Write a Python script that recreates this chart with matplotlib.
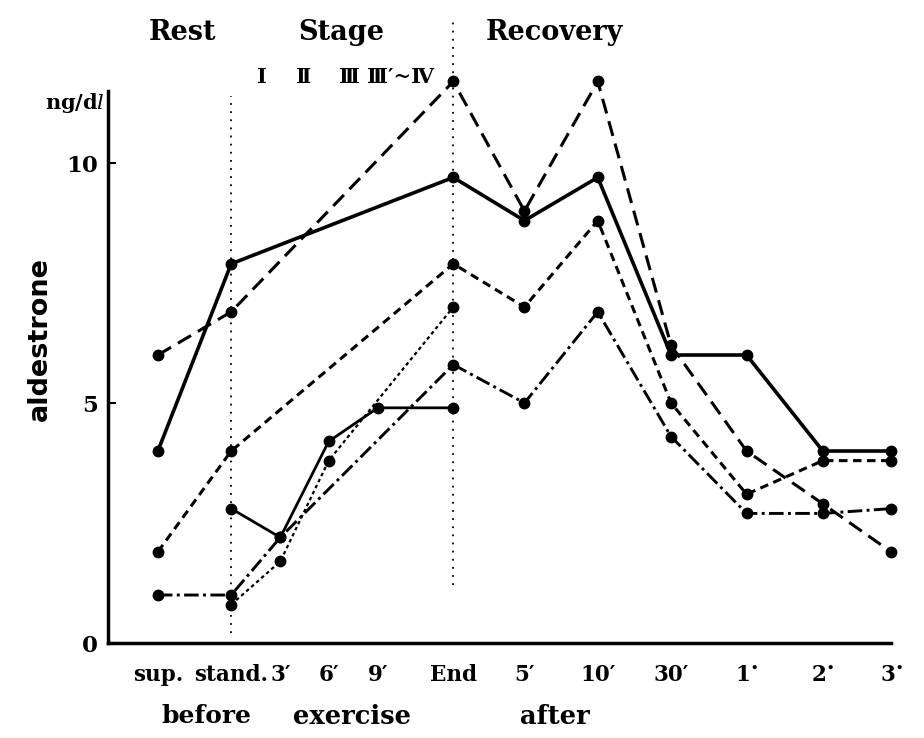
import numpy as np
import matplotlib.pyplot as plt

plt.rcParams['mathtext.fontset'] = 'dejavuserif'

# Sampling times (x positions on the uneven time axis) and their labels
times = ["sup.", "stand.", "3'", "6'", "9'", "End", "5'", "10'", "30'", "1h", "2h", "3h"]
x_pos = [0, 1, 1.67, 2.33, 3, 4.03, 5, 6, 7, 8.03, 9.07, 10]
tick_labels = ["sup.", "stand.", "3\u2032", "6\u2032", "9\u2032", "End", "5\u2032", "10\u2032",
               "30\u2032", r"1$^{\bullet}$", r"2$^{\bullet}$", r"3$^{\bullet}$"]

# Plasma aldosterone (ng/dl) per subject; None = not sampled
subj_a = [4.0, 7.9, None, None, None, 9.7, 8.8, 9.7, 6.0, 6.0, 4.0, 4.0]
subj_b = [6.0, 6.9, None, None, None, 11.7, 9.0, 11.7, 6.2, 4.0, 2.9, 1.9]
subj_c = [1.9, 4.0, None, None, None, 7.9, 7.0, 8.8, 5.0, 3.1, 3.8, 3.8]
subj_d = [1.0, 1.0, 2.2, None, None, 5.8, 5.0, 6.9, 4.3, 2.7, 2.7, 2.8]
subj_e = [None, 2.8, 2.2, 4.2, 4.9, 4.9, None, None, None, None, None, None]
subj_f = [None, 0.8, 1.7, 3.8, None, 7.0, None, None, None, None, None, None]

fig = plt.figure(figsize=(9.24, 7.38), dpi=100)
ax = fig.add_axes([0.1169, 0.1287, 0.8474, 0.813])


def draw(vals, lw, ls):
    xs = [x for x, v in zip(x_pos, vals) if v is not None]
    ys = [v for v in vals if v is not None]
    ax.plot(xs, ys, color='black', lw=lw, linestyle=ls, marker='o',
            markersize=7.5, clip_on=False, zorder=3)


draw(subj_a, 2.6, '-')
draw(subj_b, 2.2, (0, (5, 2.6)))
draw(subj_c, 2.2, (0, (2.8, 1.8)))
draw(subj_d, 2.1, (0, (5, 1.5, 1, 1.5)))
draw(subj_e, 2.0, '-')
draw(subj_f, 1.6, (0, (1.6, 1.4)))

# dotted separators: rest / exercise / recovery
ax.plot([1, 1], [0.2, 11.4], color='black', lw=1.3, ls=(0, (1, 3.5)), clip_on=False)
ax.plot([4.03, 4.03], [1.2, 13.0], color='black', lw=1.3, ls=(0, (1, 3.5)), clip_on=False)

ax.set_xlim(-0.68, 10.0)
ax.set_ylim(0, 12.5)
ax.spines['top'].set_visible(False)
ax.spines['right'].set_visible(False)
ax.spines['left'].set_bounds(0, 11.5)
ax.spines['left'].set_linewidth(2.5)
ax.spines['bottom'].set_linewidth(2.5)

serif = {'family': 'DejaVu Serif', 'weight': 'bold'}
ax.set_xticks(x_pos)
ax.set_xticklabels(tick_labels, fontdict=serif, fontsize=15.5)
ax.tick_params(axis='x', length=0, pad=15)
ax.set_yticks([0, 5, 10])
ax.set_yticklabels(['0', '5', '10'], fontdict=serif, fontsize=16.5)
ax.tick_params(axis='y', direction='in', length=6, width=1.5, pad=7)

fig.text(0.043, 0.54, "aldestrone", rotation=90, ha='center', va='center',
         family='DejaVu Sans', weight='heavy', fontsize=19.5)
fig.text(0.113, 0.861, r"ng/d$\mathit{l}$", ha='right', va='center', fontsize=15, **serif)

top_y = 1 - 32 / 738
fig.text(182 / 924, top_y, "Rest", ha='center', va='center', fontsize=19.5, **serif)
fig.text(341 / 924, top_y, "Stage", ha='center', va='center', fontsize=19.5, **serif)
fig.text(554 / 924, top_y, "Recovery", ha='center', va='center', fontsize=19.5, **serif)

stage_y = 1 - 77 / 738
for sx, s in [(262, "\u2160"), (304, "\u2161"), (350, "\u2162"), (401, "\u2162\u2032~\u2163")]:
    fig.text(sx / 924, stage_y, s, ha='center', va='center', fontsize=15,
             family=['DejaVu Serif', 'DejaVu Sans'], weight='bold')

bot_y = 1 - 716 / 738
fig.text(206 / 924, bot_y, "before", ha='center', va='center', fontsize=18, **serif)
fig.text(352 / 924, bot_y, "exercise", ha='center', va='center', fontsize=18.5, **serif)
fig.text(555 / 924, bot_y, "after", ha='center', va='center', fontsize=18.5, **serif)

fig.savefig("out.png", dpi=100)
